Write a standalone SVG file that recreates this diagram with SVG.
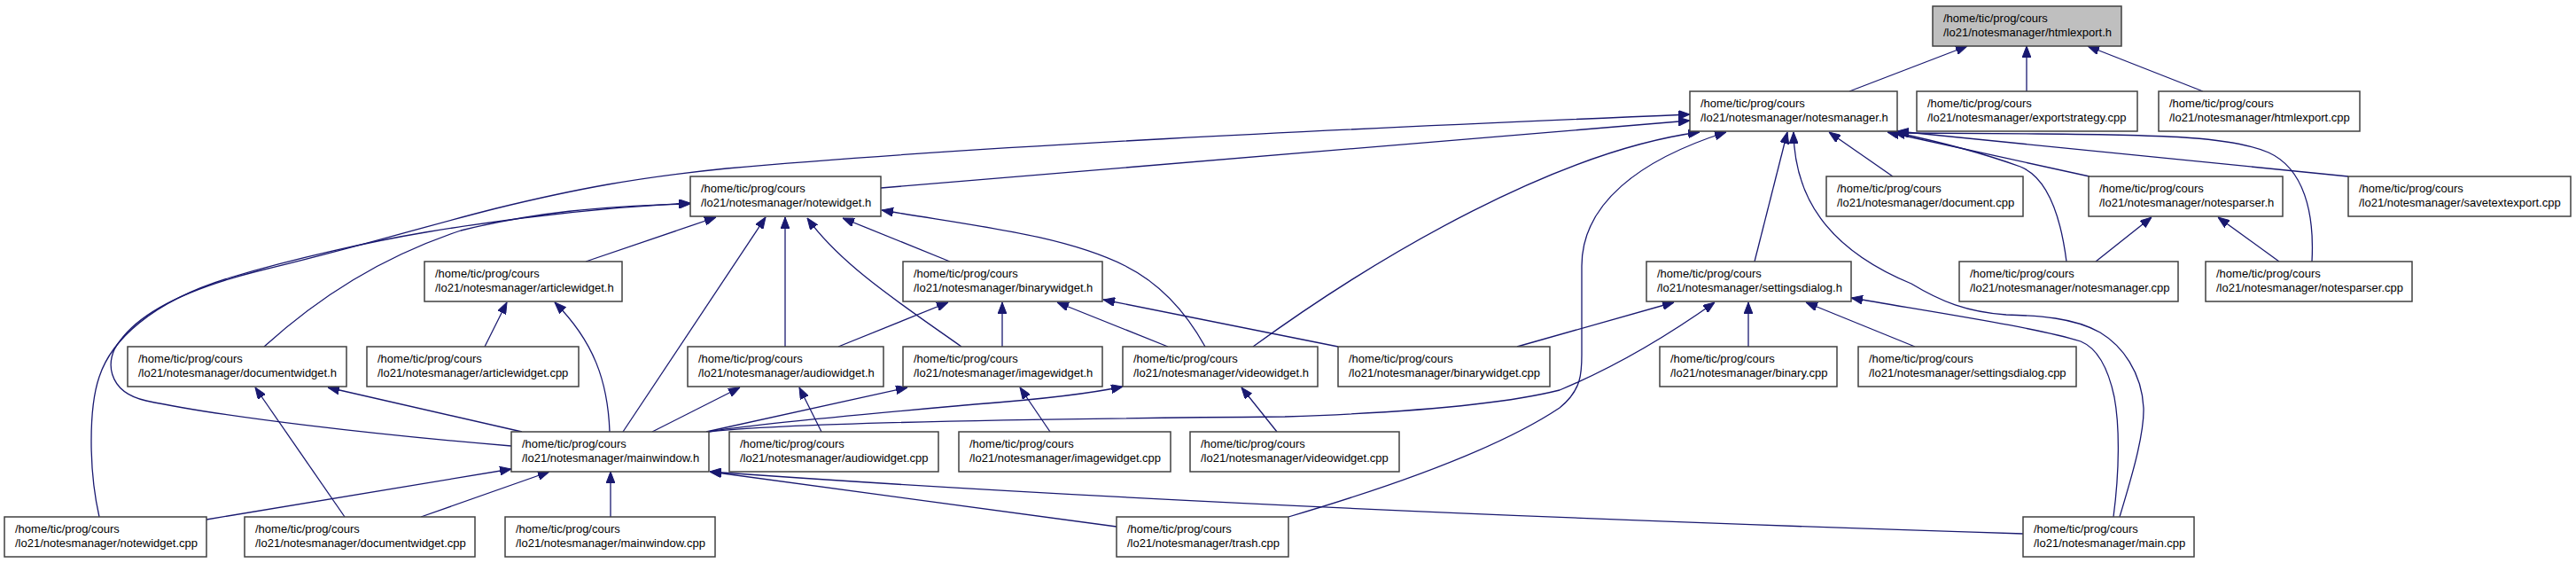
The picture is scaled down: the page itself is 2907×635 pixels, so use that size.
<svg xmlns="http://www.w3.org/2000/svg" width="2907" height="635" viewBox="0 0 2907 635">
<style>
.node rect{fill:#ffffff;stroke:#404040;stroke-width:1.5}
.node.cur rect{fill:#bfbfbf}
.node text{font-family:"Liberation Sans",Arial,Helvetica,sans-serif;font-size:13px;fill:#000}
.edges path{fill:none;stroke:#191970;stroke-width:1.3;marker-end:url(#arr)}
</style>
<defs>
<marker id="arr" markerUnits="userSpaceOnUse" viewBox="0 0 13 10" markerWidth="13" markerHeight="10" refX="13" refY="5" orient="auto">
<path d="M0,0 L13,5 L0,10 z" fill="#191970" stroke="#191970" stroke-width="1"/>
</marker>
</defs>
<rect x="0" y="0" width="2907" height="635" fill="#ffffff"/>
<g class="edges" id="connectors">
<path d="M2087,103 L2220,52"/>
<path d="M2287,103 L2287,52"/>
<path d="M2486,103 L2356,52"/>
<path d="M577,503 C420,490 250,470 165,452 C120,442 118,405 135,385 C160,350 215,325 290,306 C400,280 480,255 560,235 C650,213 720,200 820,190 C1100,165 1500,146 1907,129"/>
<path d="M112,583 C100,530 100,460 112,425 C125,385 170,340 260,313 C330,292 420,272 480,262 C600,242 700,233 779,229"/>
<path d="M298,391 C360,335 430,290 520,260 C600,240 680,232 779,230"/>
<path d="M661,295 L808,245"/>
<path d="M703,487 L864,245"/>
<path d="M886,391 L886,245"/>
<path d="M1085,391 C1020,345 950,300 911,246"/>
<path d="M1072,295 L951,246"/>
<path d="M1360,391 C1340,355 1310,320 1270,300 C1200,265 1100,255 995,237"/>
<path d="M994,212 L1907,136"/>
<path d="M1414,391 C1560,285 1760,170 1918,149"/>
<path d="M1454,583 C1600,540 1700,500 1760,460 C1785,440 1785,420 1785,400 L1785,300 C1785,230 1850,180 1948,149"/>
<path d="M1980,295 L2017,149"/>
<path d="M2392,583 C2405,540 2420,490 2419,460 C2417,420 2395,390 2370,375 C2340,358 2300,356 2264,355 C2220,352 2190,340 2157,320 C2060,280 2025,220 2024,149"/>
<path d="M2136,199 L2064,149"/>
<path d="M2358,199 L2130,149"/>
<path d="M2650,199 L2141,148"/>
<path d="M2332,295 C2325,240 2310,200 2280,188 C2230,170 2180,158 2137,149"/>
<path d="M2609,295 C2612,240 2600,190 2560,172 C2520,155 2450,152 2300,151 L2141,150"/>
<path d="M547,391 L572,341"/>
<path d="M688,487 C686,430 670,385 626,341"/>
<path d="M589,487 L370,437"/>
<path d="M389,583 L288,437"/>
<path d="M946,391 L1070,341"/>
<path d="M1131,391 L1131,341"/>
<path d="M1318,391 L1193,341"/>
<path d="M1510,391 L1245,338"/>
<path d="M736,487 L835,437"/>
<path d="M927,487 L902,437"/>
<path d="M797,487 L1024,437"/>
<path d="M1185,487 L1151,437"/>
<path d="M799,487 C850,478 1000,465 1100,456 C1180,450 1230,444 1267,436"/>
<path d="M1441,487 L1401,437"/>
<path d="M800,487 C900,476 1200,472 1450,470 C1600,465 1700,455 1760,440 C1820,415 1880,380 1935,341"/>
<path d="M1712,391 L1889,341"/>
<path d="M1973,391 L1973,341"/>
<path d="M2161,391 L2038,341"/>
<path d="M2385,583 C2392,530 2392,480 2386,448 C2378,410 2365,392 2348,385 C2300,370 2200,355 2089,336"/>
<path d="M2365,295 L2428,245"/>
<path d="M2572,295 L2503,245"/>
<path d="M233,586 L577,529"/>
<path d="M475,583 L620,532"/>
<path d="M689,583 L689,532"/>
<path d="M1260,594 L801,532"/>
<path d="M2283,602 C1900,590 1300,568 801,532"/>
</g>
<g class="node cur" id="n_htmlexport_h"><rect x="2181" y="7" width="213" height="45"/><text><tspan x="2193" y="25">/home/tic/prog/cours</tspan><tspan x="2193" y="41">/lo21/notesmanager/htmlexport.h</tspan></text></g>
<g class="node" id="n_notesmanager_h"><rect x="1907" y="103" width="234" height="45"/><text><tspan x="1919" y="121">/home/tic/prog/cours</tspan><tspan x="1919" y="137">/lo21/notesmanager/notesmanager.h</tspan></text></g>
<g class="node" id="n_exportstrategy_cpp"><rect x="2163" y="103" width="249" height="45"/><text><tspan x="2175" y="121">/home/tic/prog/cours</tspan><tspan x="2175" y="137">/lo21/notesmanager/exportstrategy.cpp</tspan></text></g>
<g class="node" id="n_htmlexport_cpp"><rect x="2436" y="103" width="227" height="45"/><text><tspan x="2448" y="121">/home/tic/prog/cours</tspan><tspan x="2448" y="137">/lo21/notesmanager/htmlexport.cpp</tspan></text></g>
<g class="node" id="n_notewidget_h"><rect x="779" y="199" width="215" height="45"/><text><tspan x="791" y="217">/home/tic/prog/cours</tspan><tspan x="791" y="233">/lo21/notesmanager/notewidget.h</tspan></text></g>
<g class="node" id="n_document_cpp"><rect x="2061" y="199" width="222" height="45"/><text><tspan x="2073" y="217">/home/tic/prog/cours</tspan><tspan x="2073" y="233">/lo21/notesmanager/document.cpp</tspan></text></g>
<g class="node" id="n_notesparser_h"><rect x="2357" y="199" width="219" height="45"/><text><tspan x="2369" y="217">/home/tic/prog/cours</tspan><tspan x="2369" y="233">/lo21/notesmanager/notesparser.h</tspan></text></g>
<g class="node" id="n_savetextexport_cpp"><rect x="2650" y="199" width="251" height="45"/><text><tspan x="2662" y="217">/home/tic/prog/cours</tspan><tspan x="2662" y="233">/lo21/notesmanager/savetextexport.cpp</tspan></text></g>
<g class="node" id="n_articlewidget_h"><rect x="479" y="295" width="223" height="45"/><text><tspan x="491" y="313">/home/tic/prog/cours</tspan><tspan x="491" y="329">/lo21/notesmanager/articlewidget.h</tspan></text></g>
<g class="node" id="n_binarywidget_h"><rect x="1019" y="295" width="225" height="45"/><text><tspan x="1031" y="313">/home/tic/prog/cours</tspan><tspan x="1031" y="329">/lo21/notesmanager/binarywidget.h</tspan></text></g>
<g class="node" id="n_settingsdialog_h"><rect x="1858" y="295" width="231" height="45"/><text><tspan x="1870" y="313">/home/tic/prog/cours</tspan><tspan x="1870" y="329">/lo21/notesmanager/settingsdialog.h</tspan></text></g>
<g class="node" id="n_notesmanager_cpp"><rect x="2211" y="295" width="247" height="45"/><text><tspan x="2223" y="313">/home/tic/prog/cours</tspan><tspan x="2223" y="329">/lo21/notesmanager/notesmanager.cpp</tspan></text></g>
<g class="node" id="n_notesparser_cpp"><rect x="2489" y="295" width="233" height="45"/><text><tspan x="2501" y="313">/home/tic/prog/cours</tspan><tspan x="2501" y="329">/lo21/notesmanager/notesparser.cpp</tspan></text></g>
<g class="node" id="n_documentwidget_h"><rect x="144" y="391" width="247" height="45"/><text><tspan x="156" y="409">/home/tic/prog/cours</tspan><tspan x="156" y="425">/lo21/notesmanager/documentwidget.h</tspan></text></g>
<g class="node" id="n_articlewidget_cpp"><rect x="414" y="391" width="239" height="45"/><text><tspan x="426" y="409">/home/tic/prog/cours</tspan><tspan x="426" y="425">/lo21/notesmanager/articlewidget.cpp</tspan></text></g>
<g class="node" id="n_audiowidget_h"><rect x="776" y="391" width="221" height="45"/><text><tspan x="788" y="409">/home/tic/prog/cours</tspan><tspan x="788" y="425">/lo21/notesmanager/audiowidget.h</tspan></text></g>
<g class="node" id="n_imagewidget_h"><rect x="1019" y="391" width="225" height="45"/><text><tspan x="1031" y="409">/home/tic/prog/cours</tspan><tspan x="1031" y="425">/lo21/notesmanager/imagewidget.h</tspan></text></g>
<g class="node" id="n_videowidget_h"><rect x="1267" y="391" width="220" height="45"/><text><tspan x="1279" y="409">/home/tic/prog/cours</tspan><tspan x="1279" y="425">/lo21/notesmanager/videowidget.h</tspan></text></g>
<g class="node" id="n_binarywidget_cpp"><rect x="1510" y="391" width="239" height="45"/><text><tspan x="1522" y="409">/home/tic/prog/cours</tspan><tspan x="1522" y="425">/lo21/notesmanager/binarywidget.cpp</tspan></text></g>
<g class="node" id="n_binary_cpp"><rect x="1873" y="391" width="200" height="45"/><text><tspan x="1885" y="409">/home/tic/prog/cours</tspan><tspan x="1885" y="425">/lo21/notesmanager/binary.cpp</tspan></text></g>
<g class="node" id="n_settingsdialog_cpp"><rect x="2097" y="391" width="246" height="45"/><text><tspan x="2109" y="409">/home/tic/prog/cours</tspan><tspan x="2109" y="425">/lo21/notesmanager/settingsdialog.cpp</tspan></text></g>
<g class="node" id="n_mainwindow_h"><rect x="577" y="487" width="223" height="45"/><text><tspan x="589" y="505">/home/tic/prog/cours</tspan><tspan x="589" y="521">/lo21/notesmanager/mainwindow.h</tspan></text></g>
<g class="node" id="n_audiowidget_cpp"><rect x="823" y="487" width="236" height="45"/><text><tspan x="835" y="505">/home/tic/prog/cours</tspan><tspan x="835" y="521">/lo21/notesmanager/audiowidget.cpp</tspan></text></g>
<g class="node" id="n_imagewidget_cpp"><rect x="1082" y="487" width="239" height="45"/><text><tspan x="1094" y="505">/home/tic/prog/cours</tspan><tspan x="1094" y="521">/lo21/notesmanager/imagewidget.cpp</tspan></text></g>
<g class="node" id="n_videowidget_cpp"><rect x="1343" y="487" width="236" height="45"/><text><tspan x="1355" y="505">/home/tic/prog/cours</tspan><tspan x="1355" y="521">/lo21/notesmanager/videowidget.cpp</tspan></text></g>
<g class="node" id="n_notewidget_cpp"><rect x="5" y="583" width="228" height="45"/><text><tspan x="17" y="601">/home/tic/prog/cours</tspan><tspan x="17" y="617">/lo21/notesmanager/notewidget.cpp</tspan></text></g>
<g class="node" id="n_documentwidget_cpp"><rect x="276" y="583" width="260" height="45"/><text><tspan x="288" y="601">/home/tic/prog/cours</tspan><tspan x="288" y="617">/lo21/notesmanager/documentwidget.cpp</tspan></text></g>
<g class="node" id="n_mainwindow_cpp"><rect x="570" y="583" width="237" height="45"/><text><tspan x="582" y="601">/home/tic/prog/cours</tspan><tspan x="582" y="617">/lo21/notesmanager/mainwindow.cpp</tspan></text></g>
<g class="node" id="n_trash_cpp"><rect x="1260" y="583" width="194" height="45"/><text><tspan x="1272" y="601">/home/tic/prog/cours</tspan><tspan x="1272" y="617">/lo21/notesmanager/trash.cpp</tspan></text></g>
<g class="node" id="n_main_cpp"><rect x="2283" y="583" width="193" height="45"/><text><tspan x="2295" y="601">/home/tic/prog/cours</tspan><tspan x="2295" y="617">/lo21/notesmanager/main.cpp</tspan></text></g>
</svg>
